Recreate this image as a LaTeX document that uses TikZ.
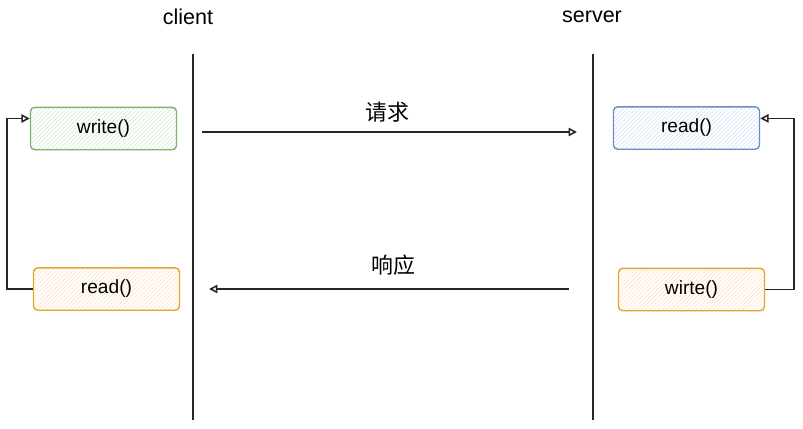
\documentclass[tikz,border=0pt]{standalone}
\usepackage{fontspec}
\setmainfont{Liberation Sans}
\newfontfamily\cjkfont{Noto Sans CJK SC}
\usetikzlibrary{arrows.meta, positioning, patterns}

\definecolor{greenline}{HTML}{82B366}
\definecolor{greenfill}{HTML}{D5E8D4}
\definecolor{blueline}{HTML}{6C8EBF}
\definecolor{bluefill}{HTML}{D2E2F8}
\definecolor{orangeline}{HTML}{E0A830}
\definecolor{orangefill}{HTML}{FDE0C2}

\begin{document}
\begin{tikzpicture}[x=0.025cm, y=-0.025cm, >={Triangle[open, length=6pt, width=6pt]},
    callbox/.style={draw, rounded corners=3pt, line width=1pt,
        minimum width=3.65cm, minimum height=1.06cm, font=\fontsize{13.6}{15}\selectfont},
    lifeline/.style={line width=1.4pt, black!85},
    msg/.style={->, line width=1.1pt, black!85},
    side/.style={font=\fontsize{15.3}{18}\selectfont},
    msglabel/.style={font=\cjkfont\fontsize{15.6}{18}\selectfont}]
        \useasboundingbox (0,0) rectangle (803,428);

        % --- lifelines ---
        \node[side] (client) at (188,17) {client};
        \node[side] (server) at (592,17) {server};
        \foreach \x in {193,593} {
            \draw[lifeline] (\x,54) -- (\x,420);
        }

        % --- client side calls ---
        \node[callbox, draw=greenline, pattern=north east lines, pattern color=greenfill] (cwrite) at (103.5,128.5) {write()};
        \node[callbox, draw=orangeline, pattern=north east lines, pattern color=orangefill] (cread) at (106.5,289) {read()};

        % --- server side calls ---
        \node[callbox, draw=blueline, pattern=north east lines, pattern color=bluefill] (sread) at (686.5,128) {read()};
        \node[callbox, draw=orangeline, pattern=north east lines, pattern color=orangefill] (swrite) at (691.5,289.5) {wirte()};

        % --- loops back to the first call ---
        \draw[msg] (cread.west) -- (7,289) |- ([yshift=0.25cm]cwrite.west);
        \draw[msg] (swrite.east) -- (794,289.5) |- ([yshift=0.24cm]sread.east);

        % --- request and response ---
        \coordinate (reqstart) at (202,132);
        \coordinate (reqend) at (577,132);
        \coordinate (respstart) at (569,289);
        \coordinate (respend) at (209,289);
        \draw[msg] (reqstart) -- (reqend);
        \draw[msg] (respstart) -- (respend);
        \node[msglabel] (req) at (387,112) {请求};
        \node[msglabel] (resp) at (393,265) {响应};
    \end{tikzpicture}
\end{document}
